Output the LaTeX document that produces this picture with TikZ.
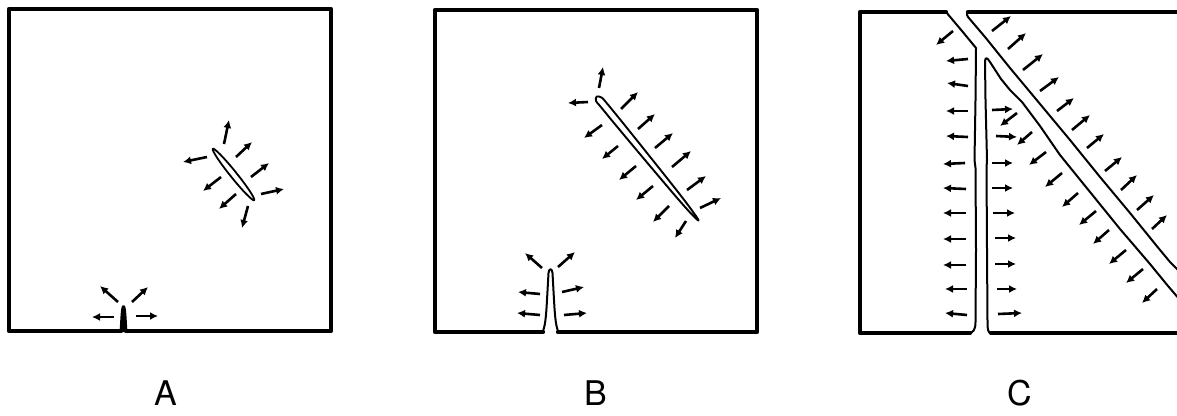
\documentclass[tikz,border=0pt]{standalone}
\usepackage{fontspec}
\setsansfont{TeX Gyre Heros}
\usetikzlibrary{arrows.meta}
\begin{document}
\begin{tikzpicture}[x=1pt,y=-1pt,
  boxline/.style={line width=4.2pt,line cap=round,line join=round},
  crackline/.style={line width=2pt,line join=round,line cap=round},
  arr/.style={line width=2.6pt,-{Latex[length=8pt,width=8pt]}},
  lab/.style={inner sep=0pt,font=\sffamily\fontsize{34}{34}\selectfont}]
\useasboundingbox (0,0) rectangle (1177,415);

% ---------------- Panel A ----------------
\draw[boxline] (121,331) -- (9,331) -- (9,9) -- (331,9) -- (331,331) -- (126,331);
\draw[crackline,fill=black] (120.5,332) .. controls (121.5,320) and (121.5,306) .. (123.5,306)
      .. controls (125.5,306) and (125.5,320) .. (126.5,332);
\draw[crackline,line width=1.8pt,rotate around={-51.2:(233.5,174.5)}] (233.5,174.5) ellipse [x radius=33pt, y radius=3.2pt];
% arrows around ellipse
\draw[arr] (224,144) -- (229,120);
\draw[arr] (207,157) -- (183,162);
\draw[arr] (236,157) -- (252,142);
\draw[arr] (251,177) -- (269,163);
\draw[arr] (261,194) -- (284,189);
\draw[arr] (221,177) -- (203,191);
\draw[arr] (236,194) -- (219,209);
\draw[arr] (248,206) -- (242,228);
% arrows around edge crack
\draw[arr] (118,302) -- (100,286);
\draw[arr] (132,302) -- (148,287);
\draw[arr] (114,317) -- (92,317);
\draw[arr] (136,316) -- (158,316);
\node[lab] (labA) at (166,393) {A};

% ---------------- Panel B ----------------
\draw[boxline] (543,332) -- (435,332) -- (435,10) -- (757,10) -- (757,332) -- (558,332);
\draw[crackline] (542,333) .. controls (545,328) and (546,318) .. (547,300)
      -- (548.5,273) .. controls (549,268) and (552,268) .. (552.5,273)
      -- (554,300) .. controls (555,318) and (556,328) .. (559,333);
\draw[crackline,line width=1.9pt] plot[smooth cycle,tension=0.6] coordinates {
  (596.7,96.5) (601.5,97.5) (605.7,101.9) (620.7,120.2) (650.3,157.1) (679.7,194.2)
  (693.9,213.1) (698.5,220.5) (692.1,214.7) (676.3,197.0) (645.7,160.9)
  (615.3,124.6) (600.3,106.3) (596,101)};
% arrows around inner crack
\draw[arr] (599,88) -- (603,67);
\draw[arr] (588,102) -- (568,103);
\draw[arr] (621,109) -- (638,92);
\draw[arr] (638,129) -- (655,114);
\draw[arr] (655,148) -- (673,133);
\draw[arr] (672,167) -- (691,151);
\draw[arr] (687,190) -- (706,176);
\draw[arr] (700,208) -- (721,198);
\draw[arr] (602,125) -- (584,138);
\draw[arr] (618,146) -- (602,159);
\draw[arr] (636,166) -- (619,180);
\draw[arr] (653,186) -- (636,200);
\draw[arr] (669,206) -- (653,222);
\draw[arr] (686,221) -- (675,238);
% arrows around edge crack
\draw[arr] (542,268) -- (525,253);
\draw[arr] (558,267) -- (575,252);
\draw[arr] (540,294) -- (518,292);
\draw[arr] (540,315) -- (517,313);
\draw[arr] (562,292) -- (584,287);
\draw[arr] (564,315) -- (587,313);
\node[lab] (labB) at (596,393) {B};

% ---------------- Panel C ----------------
\draw[boxline] (946,12) -- (860,12) -- (860,333) -- (970,333);
\draw[boxline] (968,12) -- (1180,12);
\draw[boxline] (991,333) -- (1180,333);
% left piece crack edge
\draw[crackline] (946,12) -- (962,31) -- (976,48) -- (975.5,100) -- (974.5,160)
   -- (975.5,168) -- (976,250) -- (975.5,322) .. controls (975.5,330) and (973,333) .. (968,333.5);
% middle piece crack edges
\draw[crackline] (992,334) .. controls (988,333) and (987.5,330) .. (987.5,322)
   -- (987,250) -- (986.5,168) -- (987,160) -- (985.5,100) -- (985,62)
   .. controls (985,57) and (987,57) .. (990,62)
   -- (1001,79) -- (1010,90) -- (1022,102) -- (1040,126) -- (1060,155)
   -- (1090,192) -- (1120,229) -- (1150,264) -- (1168,286) -- (1180,300);
% upper right piece crack edge
\draw[crackline] (970,12) .. controls (967,12) and (966,14) .. (968,17)
   -- (985,37) -- (1010,68) -- (1040,104) -- (1070,140) -- (1100,177)
   -- (1130,213) -- (1160,250) -- (1170,262) -- (1180,272);
% arrows left of vertical crack
\draw[arr] (953,31) -- (936,45);
\draw[arr] (968,59) -- (946,61);
\draw[arr] (968,86) -- (947,83);
\draw[arr] (968,111) -- (946,111);
\draw[arr] (968,137) -- (946,136);
\draw[arr] (965,163) -- (943,164);
\draw[arr] (966,189) -- (943,188);
\draw[arr] (966,213) -- (943,213);
\draw[arr] (966,239) -- (943,239);
\draw[arr] (966,265) -- (943,265);
\draw[arr] (967,289) -- (945,289);
\draw[arr] (967,315) -- (945,313);
% arrows right of vertical crack
\draw[arr] (992,110) -- (1013,109);
\draw[arr] (996,136) -- (1017,137);
\draw[arr] (992,163) -- (1013,163);
\draw[arr] (992,188) -- (1013,188);
\draw[arr] (993,213) -- (1015,213);
\draw[arr] (995,238) -- (1016,238);
\draw[arr] (995,264) -- (1016,264);
\draw[arr] (997,289) -- (1017,289);
\draw[arr] (998,314) -- (1022,313);
% arrows below diagonal crack
\draw[arr] (1017,113) -- (1000,126);
\draw[arr] (1032,132) -- (1017,145);
\draw[arr] (1046,152) -- (1029,165);
\draw[arr] (1062,173) -- (1045,187);
\draw[arr] (1078,193) -- (1062,207);
\draw[arr] (1096,211) -- (1079,225);
\draw[arr] (1109,230) -- (1093,244);
\draw[arr] (1126,250) -- (1109,264);
\draw[arr] (1143,269) -- (1126,283);
\draw[arr] (1157,289) -- (1142,303);
% arrows above diagonal crack
\draw[arr] (992,31) -- (1011,16);
\draw[arr] (1008,49) -- (1026,33);
\draw[arr] (1023,70) -- (1043,54);
\draw[arr] (1040,91) -- (1059,77);
\draw[arr] (1057,111) -- (1074,98);
\draw[arr] (1072,130) -- (1090,115);
\draw[arr] (1087,148) -- (1104,134);
\draw[arr] (1105,171) -- (1122,157);
\draw[arr] (1121,190) -- (1137,175);
\draw[arr] (1137,210) -- (1154,195);
\draw[arr] (1152,229) -- (1167,215);
\node[lab] (labC) at (1020,393) {C};
\end{tikzpicture}
\end{document}
